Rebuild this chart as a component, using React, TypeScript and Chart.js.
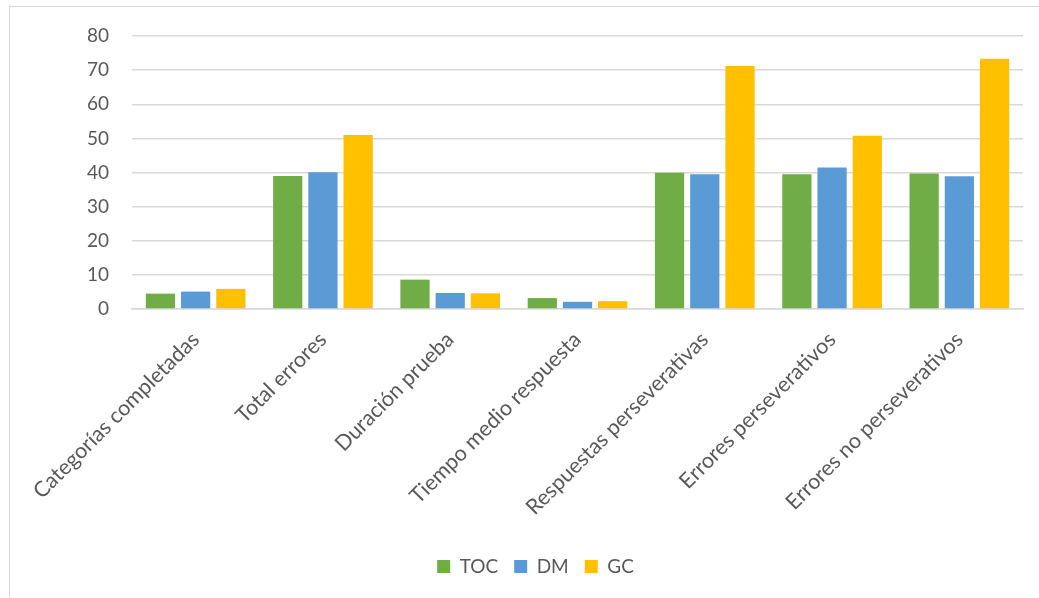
import React, { useEffect, useRef } from "react";
import { Chart, registerables } from "chart.js";

Chart.register(...registerables);

const categories = [
  "Categorías completadas",
  "Total errores",
  "Duración prueba",
  "Tiempo medio respuesta",
  "Respuestas perseverativas",
  "Errores perseverativos",
  "Errores no perseverativos",
];

const tocValues = [4.5, 39.0, 8.6, 3.2, 39.9, 39.5, 39.7];
const dmValues = [5.1, 40.1, 4.7, 2.1, 39.5, 41.5, 38.9];
const gcValues = [5.9, 51.0, 4.6, 2.3, 71.2, 50.8, 73.3];

const seriesNames = ["TOC", "DM", "GC"];
const seriesColors = ["#70AD47", "#5B9BD5", "#FFC000"];

const TEXT = "#595959";
const GRID = "#D9D9D9";
const FONT = "Lato, 'Liberation Sans', sans-serif";

export default function App() {
  const canvasRef = useRef<HTMLCanvasElement | null>(null);

  useEffect(() => {
    const canvas = canvasRef.current;
    if (!canvas) return;
    const values = [tocValues, dmValues, gcValues];
    const chart = new Chart(canvas, {
      type: "bar",
      data: {
        labels: categories,
        datasets: seriesNames.map((name, i) => ({
          label: name,
          data: values[i],
          backgroundColor: seriesColors[i],
          borderWidth: 0,
          categoryPercentage: 0.83,
          barPercentage: 0.83,
        })),
      },
      options: {
        animation: false,
        responsive: false,
        maintainAspectRatio: false,
        layout: { padding: { top: 36, left: 48, right: 16, bottom: 12 } },
        plugins: {
          title: { display: false },
          tooltip: { enabled: false },
          legend: {
            position: "bottom",
            labels: {
              color: TEXT,
              font: { family: FONT, size: 19 },
              boxWidth: 13,
              boxHeight: 13,
              padding: 16,
            },
          },
        },
        scales: {
          x: {
            grid: { display: false, drawTicks: false },
            border: { display: true, color: GRID, width: 1.5 },
            ticks: {
              color: TEXT,
              font: { family: FONT, size: 21.5 },
              maxRotation: 45,
              minRotation: 45,
              padding: 18,
            },
            afterFit: (s: any) => {
              s.height = 232;
            },
          },
          y: {
            min: 0,
            max: 80,
            grid: { color: GRID, lineWidth: 1.5, drawTicks: false },
            border: { display: false },
            ticks: {
              stepSize: 10,
              color: TEXT,
              font: { family: FONT, size: 19 },
              padding: 23,
            },
            afterFit: (s: any) => {
              s.width = 84;
            },
          },
        },
      },
    });
    return () => chart.destroy();
  }, []);

  return (
    <div
      style={{
        position: "absolute",
        left: 0,
        top: 0,
        width: 1039,
        height: 598,
        overflow: "hidden",
        background: "#ffffff",
      }}
    >
      <div
        style={{
          position: "absolute",
          left: 9,
          top: 6,
          width: 2000,
          height: 2000,
          border: `1.5px solid ${GRID}`,
        }}
      />
      <canvas
        ref={canvasRef}
        width={1039}
        height={598}
        style={{ position: "absolute", left: 0, top: 0, width: 1039, height: 598 }}
      />
    </div>
  );
}
